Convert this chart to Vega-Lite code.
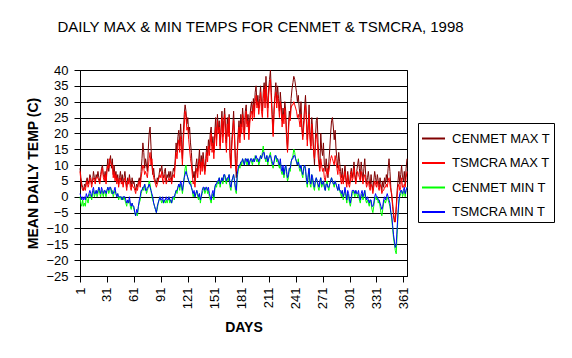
{
"$schema":"https://vega.github.io/schema/vega-lite/v6.json",
"width":327,"height":206,
"autosize":{"type":"none"},
"padding":{"left":80,"top":70,"right":165,"bottom":82},
"background":"white",
"title":{"text":"DAILY MAX & MIN TEMPS FOR CENMET & TSMCRA, 1998","font":"Liberation Sans","fontSize":15,"fontWeight":"normal","color":"black","anchor":"middle","frame":"group","dx":17,"offset":17,"baseline":"alphabetic"},
"data":{"values":[
{"d":1,"a":9,"b":8,"c":0,"e":1},{"d":2,"a":6,"b":5,"c":-2,"e":0},{"d":3,"a":4,"b":3,"c":-3,"e":-1},{"d":4,"a":3,"b":2,"c":-1,"e":0},{"d":5,"a":2,"b":2,"c":-3,"e":-1},{"d":6,"a":4,"b":3,"c":-2,"e":0},{"d":7,"a":3,"b":2,"c":-3,"e":-1},{"d":8,"a":5,"b":4,"c":0,"e":1},{"d":9,"a":6,"b":5,"c":-1,"e":0},{"d":10,"a":4,"b":3,"c":-2,"e":0},
{"d":11,"a":5,"b":4,"c":0,"e":1},{"d":12,"a":7,"b":6,"c":1,"e":2},{"d":13,"a":6,"b":5,"c":0,"e":1},{"d":14,"a":4,"b":3,"c":-1,"e":0},{"d":15,"a":5,"b":5,"c":1,"e":2},{"d":16,"a":8,"b":6,"c":2,"e":3},{"d":17,"a":6,"b":5,"c":0,"e":1},{"d":18,"a":5,"b":4,"c":1,"e":1},{"d":19,"a":7,"b":6,"c":2,"e":2},{"d":20,"a":6,"b":6,"c":0,"e":1},
{"d":21,"a":8,"b":6,"c":1,"e":2},{"d":22,"a":6,"b":5,"c":3,"e":3},{"d":23,"a":5,"b":4,"c":1,"e":2},{"d":24,"a":7,"b":6,"c":0,"e":1},{"d":25,"a":9,"b":8,"c":2,"e":3},{"d":26,"a":10,"b":9,"c":1,"e":2},{"d":27,"a":7,"b":6,"c":0,"e":1},{"d":28,"a":6,"b":5,"c":2,"e":2},{"d":29,"a":8,"b":7,"c":1,"e":2},{"d":30,"a":5,"b":4,"c":0,"e":1},
{"d":31,"a":9,"b":8,"c":2,"e":2},{"d":32,"a":12,"b":10,"c":3,"e":3},{"d":33,"a":8,"b":9,"c":1,"e":2},{"d":34,"a":11,"b":12,"c":2,"e":3},{"d":35,"a":13,"b":11,"c":3,"e":3},{"d":36,"a":9,"b":10,"c":1,"e":2},{"d":37,"a":12,"b":10,"c":2,"e":1},{"d":38,"a":7,"b":6,"c":0,"e":1},{"d":39,"a":10,"b":8,"c":1,"e":2},{"d":40,"a":6,"b":5,"c":2,"e":3},
{"d":41,"a":8,"b":7,"c":1,"e":1},{"d":42,"a":5,"b":4,"c":0,"e":0},{"d":43,"a":7,"b":6,"c":1,"e":1},{"d":44,"a":4,"b":3,"c":-1,"e":0},{"d":45,"a":6,"b":5,"c":0,"e":0},{"d":46,"a":8,"b":6,"c":0,"e":0},{"d":47,"a":5,"b":4,"c":-1,"e":0},{"d":48,"a":7,"b":5,"c":0,"e":-1},{"d":49,"a":4,"b":3,"c":-1,"e":0},{"d":50,"a":6,"b":5,"c":0,"e":0},
{"d":51,"a":8,"b":6,"c":-1,"e":0},{"d":52,"a":5,"b":4,"c":-2,"e":-1},{"d":53,"a":3,"b":2,"c":-3,"e":-2},{"d":54,"a":6,"b":5,"c":-1,"e":-1},{"d":55,"a":4,"b":4,"c":-2,"e":-2},{"d":56,"a":7,"b":6,"c":-1,"e":0},{"d":57,"a":5,"b":3,"c":-3,"e":-2},{"d":58,"a":3,"b":2,"c":-4,"e":-3},{"d":59,"a":6,"b":4,"c":-2,"e":-2},{"d":60,"a":4,"b":3,"c":-3,"e":-3},
{"d":61,"a":5,"b":3,"c":-4,"e":-3},{"d":62,"a":3,"b":2,"c":-5,"e":-5},{"d":63,"a":2,"b":1,"c":-6,"e":-6},{"d":64,"a":4,"b":3,"c":-5,"e":-4},{"d":65,"a":3,"b":2,"c":-6,"e":-5},{"d":66,"a":5,"b":4,"c":-3,"e":-3},{"d":67,"a":6,"b":5,"c":-2,"e":-1},{"d":68,"a":4,"b":3,"c":-1,"e":0},{"d":69,"a":8,"b":6,"c":1,"e":2},{"d":70,"a":12,"b":8,"c":2,"e":2},
{"d":71,"a":17,"b":10,"c":3,"e":3},{"d":72,"a":14,"b":9,"c":2,"e":3},{"d":73,"a":9,"b":7,"c":4,"e":4},{"d":74,"a":12,"b":8,"c":3,"e":2},{"d":75,"a":10,"b":7,"c":1,"e":2},{"d":76,"a":8,"b":6,"c":2,"e":3},{"d":77,"a":15,"b":9,"c":3,"e":3},{"d":78,"a":20,"b":12,"c":5,"e":4},{"d":79,"a":22,"b":14,"c":4,"e":3},{"d":80,"a":16,"b":10,"c":2,"e":2},
{"d":81,"a":10,"b":12,"c":0,"e":1},{"d":82,"a":7,"b":8,"c":-1,"e":0},{"d":83,"a":9,"b":6,"c":-2,"e":-2},{"d":84,"a":6,"b":5,"c":-3,"e":-3},{"d":85,"a":5,"b":4,"c":-4,"e":-4},{"d":86,"a":4,"b":3,"c":-5,"e":-5},{"d":87,"a":6,"b":4,"c":-4,"e":-3},{"d":88,"a":5,"b":5,"c":-2,"e":-2},{"d":89,"a":7,"b":6,"c":-1,"e":-1},{"d":90,"a":9,"b":7,"c":0,"e":0},
{"d":91,"a":8,"b":6,"c":-1,"e":-1},{"d":92,"a":10,"b":8,"c":-2,"e":-1},{"d":93,"a":7,"b":5,"c":-1,"e":0},{"d":94,"a":6,"b":4,"c":-2,"e":-2},{"d":95,"a":8,"b":7,"c":-1,"e":-1},{"d":96,"a":9,"b":6,"c":-2,"e":-1},{"d":97,"a":5,"b":4,"c":-1,"e":0},{"d":98,"a":7,"b":5,"c":-2,"e":-1},{"d":99,"a":6,"b":5,"c":-1,"e":-1},{"d":100,"a":8,"b":6,"c":0,"e":0},
{"d":101,"a":6,"b":5,"c":-2,"e":-1},{"d":102,"a":8,"b":6,"c":-1,"e":-1},{"d":103,"a":5,"b":4,"c":-2,"e":-2},{"d":104,"a":7,"b":6,"c":-1,"e":0},{"d":105,"a":9,"b":7,"c":0,"e":0},{"d":106,"a":8,"b":6,"c":-1,"e":0},{"d":107,"a":12,"b":10,"c":1,"e":1},{"d":108,"a":17,"b":14,"c":2,"e":2},{"d":109,"a":14,"b":12,"c":1,"e":2},{"d":110,"a":19,"b":16,"c":3,"e":3},
{"d":111,"a":21,"b":18,"c":4,"e":4},{"d":112,"a":16,"b":14,"c":2,"e":3},{"d":113,"a":23,"b":19,"c":4,"e":5},{"d":114,"a":18,"b":15,"c":3,"e":4},{"d":115,"a":12,"b":10,"c":1,"e":2},{"d":116,"a":20,"b":17,"c":3,"e":4},{"d":117,"a":26,"b":22,"c":6,"e":6},{"d":118,"a":29,"b":27,"c":9,"e":7},{"d":119,"a":27,"b":25,"c":10,"e":8},{"d":120,"a":23,"b":21,"c":7,"e":7},
{"d":121,"a":25,"b":22,"c":6,"e":6},{"d":122,"a":20,"b":18,"c":5,"e":5},{"d":123,"a":22,"b":15,"c":4,"e":4},{"d":124,"a":17,"b":12,"c":5,"e":4},{"d":125,"a":14,"b":10,"c":3,"e":3},{"d":126,"a":9,"b":7,"c":2,"e":2},{"d":127,"a":6,"b":4,"c":0,"e":1},{"d":128,"a":8,"b":5,"c":1,"e":2},{"d":129,"a":5,"b":3,"c":0,"e":0},{"d":130,"a":10,"b":7,"c":1,"e":1},
{"d":131,"a":12,"b":9,"c":2,"e":2},{"d":132,"a":8,"b":6,"c":0,"e":1},{"d":133,"a":11,"b":10,"c":-1,"e":0},{"d":134,"a":15,"b":12,"c":1,"e":1},{"d":135,"a":9,"b":7,"c":-2,"e":-1},{"d":136,"a":13,"b":11,"c":0,"e":0},{"d":137,"a":10,"b":8,"c":1,"e":2},{"d":138,"a":14,"b":12,"c":2,"e":3},{"d":139,"a":11,"b":9,"c":3,"e":3},{"d":140,"a":8,"b":7,"c":1,"e":2},
{"d":141,"a":12,"b":10,"c":2,"e":3},{"d":142,"a":16,"b":14,"c":3,"e":3},{"d":143,"a":13,"b":11,"c":1,"e":2},{"d":144,"a":18,"b":16,"c":2,"e":3},{"d":145,"a":15,"b":13,"c":0,"e":1},{"d":146,"a":20,"b":17,"c":-1,"e":0},{"d":147,"a":22,"b":20,"c":-2,"e":-1},{"d":148,"a":16,"b":14,"c":0,"e":1},{"d":149,"a":19,"b":17,"c":1,"e":2},{"d":150,"a":14,"b":12,"c":-1,"e":0},
{"d":151,"a":20,"b":18,"c":2,"e":3},{"d":152,"a":25,"b":22,"c":4,"e":4},{"d":153,"a":18,"b":16,"c":3,"e":4},{"d":154,"a":26,"b":24,"c":5,"e":5},{"d":155,"a":21,"b":20,"c":4,"e":5},{"d":156,"a":24,"b":22,"c":6,"e":6},{"d":157,"a":16,"b":15,"c":3,"e":4},{"d":158,"a":22,"b":20,"c":5,"e":5},{"d":159,"a":27,"b":25,"c":6,"e":6},{"d":160,"a":19,"b":17,"c":4,"e":5},
{"d":161,"a":24,"b":22,"c":6,"e":7},{"d":162,"a":28,"b":26,"c":7,"e":7},{"d":163,"a":22,"b":18,"c":5,"e":6},{"d":164,"a":17,"b":14,"c":4,"e":5},{"d":165,"a":25,"b":23,"c":6,"e":6},{"d":166,"a":20,"b":19,"c":5,"e":6},{"d":167,"a":26,"b":25,"c":7,"e":7},{"d":168,"a":14,"b":12,"c":3,"e":4},{"d":169,"a":10,"b":9,"c":2,"e":3},{"d":170,"a":18,"b":16,"c":5,"e":5},
{"d":171,"a":22,"b":20,"c":6,"e":6},{"d":172,"a":27,"b":24,"c":7,"e":7},{"d":173,"a":20,"b":18,"c":5,"e":5},{"d":174,"a":12,"b":10,"c":2,"e":3},{"d":175,"a":6,"b":8,"c":1,"e":2},{"d":176,"a":14,"b":13,"c":6,"e":7},{"d":177,"a":20,"b":18,"c":8,"e":9},{"d":178,"a":24,"b":22,"c":10,"e":10},{"d":179,"a":19,"b":17,"c":9,"e":10},{"d":180,"a":26,"b":23,"c":11,"e":11},
{"d":181,"a":22,"b":20,"c":10,"e":11},{"d":182,"a":28,"b":26,"c":12,"e":12},{"d":183,"a":24,"b":21,"c":11,"e":11},{"d":184,"a":20,"b":18,"c":10,"e":10},{"d":185,"a":27,"b":25,"c":12,"e":12},{"d":186,"a":29,"b":27,"c":11,"e":12},{"d":187,"a":23,"b":22,"c":10,"e":11},{"d":188,"a":26,"b":24,"c":12,"e":12},{"d":189,"a":21,"b":18,"c":10,"e":10},{"d":190,"a":25,"b":23,"c":11,"e":11},
{"d":191,"a":28,"b":26,"c":12,"e":12},{"d":192,"a":30,"b":27,"c":11,"e":12},{"d":193,"a":26,"b":24,"c":10,"e":11},{"d":194,"a":31,"b":29,"c":12,"e":12},{"d":195,"a":27,"b":25,"c":11,"e":11},{"d":196,"a":33,"b":30,"c":13,"e":12},{"d":197,"a":35,"b":32,"c":12,"e":13},{"d":198,"a":29,"b":28,"c":11,"e":12},{"d":199,"a":32,"b":30,"c":12,"e":12},{"d":200,"a":28,"b":26,"c":10,"e":11},
{"d":201,"a":31,"b":29,"c":11,"e":12},{"d":202,"a":35,"b":33,"c":13,"e":13},{"d":203,"a":30,"b":27,"c":12,"e":12},{"d":204,"a":27,"b":25,"c":14,"e":13},{"d":205,"a":33,"b":31,"c":16,"e":14},{"d":206,"a":36,"b":34,"c":13,"e":14},{"d":207,"a":30,"b":28,"c":12,"e":12},{"d":208,"a":38,"b":35,"c":11,"e":12},{"d":209,"a":32,"b":30,"c":13,"e":13},{"d":210,"a":28,"b":25,"c":10,"e":11},
{"d":211,"a":34,"b":32,"c":12,"e":12},{"d":212,"a":37,"b":35,"c":13,"e":13},{"d":213,"a":40,"b":37,"c":14,"e":13},{"d":214,"a":33,"b":30,"c":11,"e":12},{"d":215,"a":26,"b":24,"c":10,"e":11},{"d":216,"a":20,"b":19,"c":9,"e":10},{"d":217,"a":28,"b":26,"c":11,"e":11},{"d":218,"a":32,"b":31,"c":12,"e":13},{"d":219,"a":36,"b":33,"c":13,"e":13},{"d":220,"a":30,"b":28,"c":11,"e":12},
{"d":221,"a":35,"b":32,"c":12,"e":12},{"d":222,"a":31,"b":29,"c":10,"e":11},{"d":223,"a":27,"b":25,"c":9,"e":10},{"d":224,"a":33,"b":30,"c":11,"e":12},{"d":225,"a":29,"b":27,"c":8,"e":9},{"d":226,"a":24,"b":22,"c":7,"e":8},{"d":227,"a":28,"b":26,"c":9,"e":10},{"d":228,"a":25,"b":23,"c":6,"e":7},{"d":229,"a":30,"b":28,"c":8,"e":9},{"d":230,"a":27,"b":24,"c":10,"e":10},
{"d":231,"a":20,"b":18,"c":7,"e":8},{"d":232,"a":15,"b":14,"c":5,"e":6},{"d":233,"a":22,"b":20,"c":6,"e":7},{"d":234,"a":27,"b":25,"c":9,"e":9},{"d":235,"a":25,"b":24,"c":8,"e":9},{"d":236,"a":31,"b":28,"c":11,"e":11},{"d":237,"a":34,"b":29,"c":12,"e":12},{"d":238,"a":36,"b":29,"c":13,"e":12},{"d":239,"a":38,"b":30,"c":15,"e":13},{"d":240,"a":37,"b":29,"c":14,"e":13},
{"d":241,"a":35,"b":28,"c":12,"e":12},{"d":242,"a":33,"b":27,"c":11,"e":11},{"d":243,"a":30,"b":25,"c":10,"e":10},{"d":244,"a":32,"b":26,"c":12,"e":11},{"d":245,"a":28,"b":24,"c":9,"e":10},{"d":246,"a":25,"b":22,"c":8,"e":9},{"d":247,"a":30,"b":26,"c":10,"e":10},{"d":248,"a":22,"b":21,"c":7,"e":8},{"d":249,"a":19,"b":18,"c":6,"e":7},{"d":250,"a":24,"b":22,"c":9,"e":9},
{"d":251,"a":28,"b":25,"c":10,"e":10},{"d":252,"a":32,"b":29,"c":8,"e":9},{"d":253,"a":26,"b":24,"c":5,"e":6},{"d":254,"a":18,"b":16,"c":3,"e":4},{"d":255,"a":23,"b":21,"c":6,"e":7},{"d":256,"a":29,"b":26,"c":9,"e":9},{"d":257,"a":20,"b":18,"c":4,"e":5},{"d":258,"a":16,"b":15,"c":3,"e":4},{"d":259,"a":25,"b":23,"c":7,"e":7},{"d":260,"a":21,"b":19,"c":5,"e":6},
{"d":261,"a":15,"b":14,"c":3,"e":4},{"d":262,"a":10,"b":12,"c":2,"e":3},{"d":263,"a":18,"b":16,"c":5,"e":5},{"d":264,"a":24,"b":20,"c":6,"e":6},{"d":265,"a":25,"b":18,"c":5,"e":5},{"d":266,"a":17,"b":13,"c":3,"e":4},{"d":267,"a":12,"b":10,"c":2,"e":3},{"d":268,"a":9,"b":8,"c":4,"e":5},{"d":269,"a":20,"b":12,"c":6,"e":6},{"d":270,"a":15,"b":10,"c":3,"e":4},
{"d":271,"a":13,"b":8,"c":4,"e":4},{"d":272,"a":17,"b":9,"c":5,"e":5},{"d":273,"a":10,"b":6,"c":3,"e":3},{"d":274,"a":8,"b":5,"c":2,"e":2},{"d":275,"a":12,"b":7,"c":4,"e":4},{"d":276,"a":9,"b":9,"c":5,"e":4},{"d":277,"a":6,"b":7,"c":3,"e":3},{"d":278,"a":11,"b":8,"c":2,"e":3},{"d":279,"a":15,"b":10,"c":4,"e":4},{"d":280,"a":20,"b":12,"c":5,"e":5},
{"d":281,"a":24,"b":13,"c":6,"e":6},{"d":282,"a":25,"b":12,"c":5,"e":5},{"d":283,"a":22,"b":11,"c":4,"e":4},{"d":284,"a":18,"b":10,"c":3,"e":4},{"d":285,"a":21,"b":13,"c":5,"e":5},{"d":286,"a":15,"b":11,"c":4,"e":4},{"d":287,"a":12,"b":9,"c":3,"e":3},{"d":288,"a":9,"b":7,"c":2,"e":2},{"d":289,"a":14,"b":10,"c":3,"e":4},{"d":290,"a":11,"b":8,"c":2,"e":2},
{"d":291,"a":8,"b":6,"c":1,"e":2},{"d":292,"a":6,"b":4,"c":0,"e":1},{"d":293,"a":9,"b":7,"c":2,"e":2},{"d":294,"a":5,"b":4,"c":-1,"e":0},{"d":295,"a":7,"b":6,"c":1,"e":1},{"d":296,"a":10,"b":8,"c":2,"e":3},{"d":297,"a":6,"b":5,"c":0,"e":1},{"d":298,"a":4,"b":3,"c":-2,"e":-1},{"d":299,"a":8,"b":7,"c":1,"e":2},{"d":300,"a":5,"b":4,"c":0,"e":1},
{"d":301,"a":4,"b":3,"c":-2,"e":-1},{"d":302,"a":7,"b":5,"c":-3,"e":-2},{"d":303,"a":9,"b":8,"c":-1,"e":0},{"d":304,"a":6,"b":5,"c":1,"e":2},{"d":305,"a":8,"b":6,"c":2,"e":2},{"d":306,"a":11,"b":9,"c":1,"e":2},{"d":307,"a":7,"b":6,"c":0,"e":1},{"d":308,"a":5,"b":4,"c":2,"e":2},{"d":309,"a":8,"b":6,"c":1,"e":1},{"d":310,"a":10,"b":8,"c":0,"e":1},
{"d":311,"a":12,"b":7,"c":1,"e":2},{"d":312,"a":9,"b":6,"c":-1,"e":0},{"d":313,"a":6,"b":5,"c":-2,"e":-1},{"d":314,"a":11,"b":8,"c":0,"e":1},{"d":315,"a":8,"b":6,"c":1,"e":2},{"d":316,"a":5,"b":4,"c":-1,"e":0},{"d":317,"a":9,"b":6,"c":0,"e":1},{"d":318,"a":12,"b":7,"c":2,"e":2},{"d":319,"a":7,"b":5,"c":-1,"e":0},{"d":320,"a":4,"b":3,"c":-2,"e":-1},
{"d":321,"a":6,"b":4,"c":-1,"e":0},{"d":322,"a":8,"b":5,"c":-2,"e":-1},{"d":323,"a":5,"b":3,"c":-3,"e":-2},{"d":324,"a":3,"b":2,"c":-1,"e":-1},{"d":325,"a":7,"b":4,"c":-2,"e":-1},{"d":326,"a":4,"b":3,"c":-4,"e":-3},{"d":327,"a":2,"b":1,"c":-5,"e":-3},{"d":328,"a":5,"b":3,"c":-3,"e":-2},{"d":329,"a":8,"b":5,"c":-1,"e":0},{"d":330,"a":6,"b":4,"c":0,"e":1},
{"d":331,"a":4,"b":3,"c":-1,"e":0},{"d":332,"a":7,"b":5,"c":0,"e":0},{"d":333,"a":5,"b":3,"c":-2,"e":-1},{"d":334,"a":3,"b":2,"c":-1,"e":-1},{"d":335,"a":6,"b":4,"c":-3,"e":-2},{"d":336,"a":4,"b":3,"c":-5,"e":-3},{"d":337,"a":2,"b":1,"c":-6,"e":-4},{"d":338,"a":5,"b":2,"c":-4,"e":-3},{"d":339,"a":3,"b":2,"c":-2,"e":-1},{"d":340,"a":6,"b":3,"c":-1,"e":0},
{"d":341,"a":4,"b":3,"c":-2,"e":-1},{"d":342,"a":7,"b":4,"c":-1,"e":0},{"d":343,"a":5,"b":3,"c":0,"e":1},{"d":344,"a":9,"b":5,"c":-1,"e":0},{"d":345,"a":12,"b":6,"c":-2,"e":-1},{"d":346,"a":8,"b":4,"c":-3,"e":-2},{"d":347,"a":3,"b":2,"c":-5,"e":-5},{"d":348,"a":0,"b":1,"c":-7,"e":-6},{"d":349,"a":-3,"b":-2,"c":-10,"e":-9},{"d":350,"a":-6,"b":-5,"c":-13,"e":-12},
{"d":351,"a":-8,"b":-7,"c":-15,"e":-14},{"d":352,"a":-7,"b":-8,"c":-17,"e":-16},{"d":353,"a":-3,"b":-4,"c":-18,"e":-15},{"d":354,"a":2,"b":0,"c":-12,"e":-10},{"d":355,"a":5,"b":3,"c":-6,"e":-5},{"d":356,"a":8,"b":4,"c":-2,"e":-1},{"d":357,"a":4,"b":2,"c":0,"e":1},{"d":358,"a":7,"b":3,"c":1,"e":2},{"d":359,"a":10,"b":6,"c":2,"e":2},{"d":360,"a":6,"b":3,"c":0,"e":1},
{"d":361,"a":5,"b":3,"c":1,"e":2},{"d":362,"a":8,"b":4,"c":2,"e":3},{"d":363,"a":4,"b":3,"c":0,"e":1},{"d":364,"a":9,"b":6,"c":2,"e":2},{"d":365,"a":12,"b":8,"c":3,"e":3}
]},
"transform":[{"fold":["a","b","c","e"],"as":["s","t"]}],
"encoding":{
"x":{"field":"d","type":"quantitative","title":"DAYS","scale":{"domain":[1,365],"nice":false,"zero":false},
"axis":{"values":[1,31,61,91,121,151,181,211,241,271,301,331,361],"labelAngle":270,"labelFont":"Liberation Sans","labelFontSize":13,"labelColor":"black","tickColor":"black","tickSize":6,"labelPadding":5,"domainColor":"black","grid":false,"titleFont":"Liberation Sans","titleFontSize":14,"titleFontWeight":"bold","titleColor":"black","titlePadding":12,"labelFlush":false,"labelOverlap":false}},
"y":{"field":"t","type":"quantitative","title":"MEAN DAILY TEMP (C)","scale":{"domain":[-25,40],"nice":false,"zero":false},
"axis":{"values":[-25,-20,-15,-10,-5,0,5,10,15,20,25,30,35,40],"labelFont":"Liberation Sans","labelFontSize":13,"labelColor":"black","tickColor":"black","tickSize":6,"labelPadding":6,"domainColor":"black","grid":true,"gridColor":"black","gridOpacity":1,"titleFont":"Liberation Sans","titleFontSize":14,"titleFontWeight":"bold","titleColor":"black","titlePadding":5,"labelFlush":false,"labelOverlap":false}},
"color":{"field":"s","type":"nominal","scale":{"domain":["a","b","c","e"],"range":["#800000","#ff0000","#00ff00","#0000ff"]},
"legend":{"orient":"none","legendX":338,"legendY":53,"title":null,"titlePadding":0,"labelExpr":"{'a':'CENMET MAX T','b':'TSMCRA MAX T','c':'CENMET MIN T','e':'TSMCRA MIN T'}[datum.value]","symbolType":"stroke","symbolSize":529,"symbolStrokeWidth":2,"labelFont":"Liberation Sans","labelFontSize":13,"labelColor":"black","strokeColor":"black","fillColor":"white","padding":3,"rowPadding":4.5,"labelOffset":6}}
},
"layer":[
{"transform":[{"filter":"datum.s=='a'"}],"mark":{"type":"line","strokeWidth":1}},
{"transform":[{"filter":"datum.s=='b'"}],"mark":{"type":"line","strokeWidth":1}},
{"transform":[{"filter":"datum.s=='c'"}],"mark":{"type":"line","strokeWidth":1}},
{"transform":[{"filter":"datum.s=='e'"}],"mark":{"type":"line","strokeWidth":1}}
],
"config":{"view":{"stroke":"black","strokeWidth":1},"font":"Liberation Sans"}
}
